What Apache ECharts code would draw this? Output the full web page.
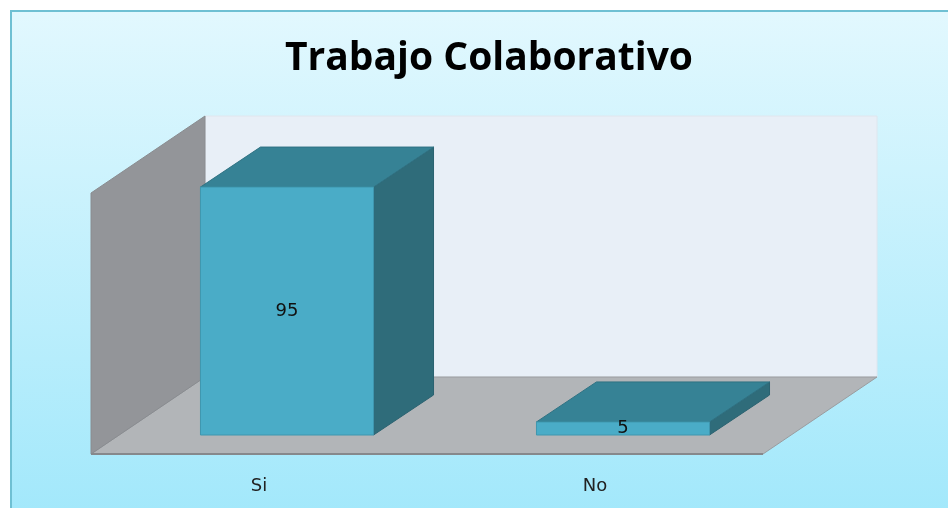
<!DOCTYPE html>
<html>
<head>
<meta charset="utf-8">
<script src="https://cdn.jsdelivr.net/npm/echarts@6/dist/echarts.min.js"></script>
<style>
  html, body { margin: 0; padding: 0; background: #fff; }
  #chart { width: 948px; height: 508px; }
</style>
</head>
<body>
<div id="chart"></div>
<script>
  const categories = ['Si', 'No']
  const values = [95, 5]
  const yMax = 100

  // depth offsets of the 3D box, in pixels
  const front = [-28, 19]
  const back = [86, -58]
  const barDepth = [60, -40]

  const myChart = echarts.init(document.getElementById('chart'))

  function renderWalls(params, api) {
    const band = api.size([1, 0])[0]
    const left = api.coord([0, 0])[0] - band / 2
    const right = api.coord([categories.length - 1, 0])[0] + band / 2
    const y0 = api.coord([0, 0])[1]
    const yTop = api.coord([0, yMax])[1]
    return {
      type: 'group',
      children: [
        {
          type: 'rect',
          shape: { x: left + back[0], y: yTop + back[1], width: right - left, height: y0 - yTop },
          style: { fill: '#e8eff7', stroke: '#dfe6ee', lineWidth: 1 }
        },
        {
          type: 'polygon',
          shape: { points: [
            [left + front[0], y0 + front[1]], [left + back[0], y0 + back[1]],
            [right + back[0], y0 + back[1]], [right + front[0], y0 + front[1]]
          ] },
          style: { fill: '#b2b5b8', stroke: '#9a9c9f', lineWidth: 1 }
        },
        {
          type: 'polygon',
          shape: { points: [
            [left + front[0], yTop + front[1]], [left + back[0], yTop + back[1]],
            [left + back[0], y0 + back[1]], [left + front[0], y0 + front[1]]
          ] },
          style: { fill: '#939599', stroke: '#8a8c90', lineWidth: 1 }
        },
        {
          type: 'line',
          shape: { x1: left + front[0], y1: y0 + front[1], x2: right + front[0], y2: y0 + front[1] },
          style: { stroke: '#86888b', lineWidth: 2 }
        }
      ]
    }
  }

  function renderBar(params, api) {
    const band = api.size([1, 0])[0]
    const w = band * 0.515
    const base = api.coord([api.value(0), 0])
    const top = api.coord([api.value(0), api.value(1)])
    const x0 = base[0] - w / 2
    const x1 = x0 + w
    const yb = base[1]
    const yt = top[1]
    const dx = barDepth[0]
    const dy = barDepth[1]
    return {
      type: 'group',
      children: [
        {
          type: 'polygon',
          shape: { points: [[x1, yt], [x1 + dx, yt + dy], [x1 + dx, yb + dy], [x1, yb]] },
          style: { fill: '#2f6c7a', stroke: '#2a6270', lineWidth: 1 }
        },
        {
          type: 'polygon',
          shape: { points: [[x0, yt], [x0 + dx, yt + dy], [x1 + dx, yt + dy], [x1, yt]] },
          style: { fill: '#368295', stroke: '#2f7283', lineWidth: 1 }
        },
        {
          type: 'rect',
          shape: { x: x0, y: yt, width: w, height: yb - yt },
          style: { fill: '#4aacc7', stroke: '#3f97ae', lineWidth: 1 }
        },
        {
          type: 'text',
          style: {
            x: base[0], y: (yt + yb) / 2,
            text: String(api.value(1)),
            fill: '#111', font: '18px "DejaVu Sans"',
            align: 'center', verticalAlign: 'middle'
          }
        },
        {
          type: 'text',
          style: {
            x: base[0] + front[0], y: yb + front[1] + 32,
            text: categories[api.value(0)],
            fill: '#222', font: '18px "DejaVu Sans"',
            align: 'center', verticalAlign: 'middle'
          }
        }
      ]
    }
  }

  myChart.setOption({
    animation: false,
    graphic: [
      {
        type: 'rect',
        z: -10,
        shape: { x: 11, y: 11, width: 945, height: 505 },
        style: {
          fill: new echarts.graphic.LinearGradient(0, 0, 0, 1, [
            { offset: 0, color: '#e2f8fe' },
            { offset: 1, color: '#a2e8fb' }
          ]),
          stroke: '#6fc0d3',
          lineWidth: 2
        }
      }
    ],
    title: {
      text: 'Trabajo Colaborativo',
      left: 484,
      top: 34,
      textAlign: 'center',
      textStyle: { fontFamily: 'Open Sans', fontWeight: 'bold', fontSize: 39, color: '#000' }
    },
    grid: { left: 119, right: 157, top: 174, bottom: 73 },
    xAxis: { type: 'category', data: categories, show: false },
    yAxis: { type: 'value', min: 0, max: yMax, show: false },
    series: [
      {
        type: 'custom',
        z: 1,
        renderItem: renderWalls,
        data: [[0, 0]],
        silent: true
      },
      {
        type: 'custom',
        z: 2,
        renderItem: renderBar,
        data: categories.map((c, i) => [i, values[i]])
      }
    ]
  })
</script>
</body>
</html>
